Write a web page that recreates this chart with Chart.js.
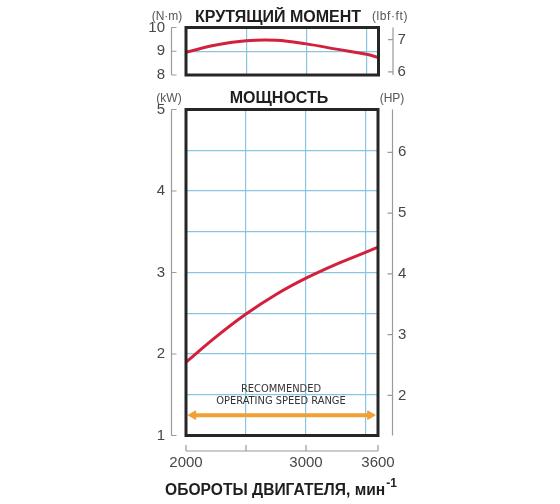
<!DOCTYPE html>
<html>
<head>
<meta charset="utf-8">
<script src="https://cdn.jsdelivr.net/npm/chart.js@4.4.1/dist/chart.umd.min.js"></script>
<style>
  html, body { margin: 0; padding: 0; background: #fff; }
  #page { position: relative; width: 560px; height: 504px; overflow: hidden; font-family: 'Liberation Sans', Arial, sans-serif; }
  .holder { position: absolute; left: 0; width: 560px; }
  .t { position: absolute; transform: translate(-50%, -50%); line-height: 1; white-space: nowrap; }
  .title { font-weight: bold; font-size: 16px; color: #1e1e1e; }
  .unit { font-size: 12px; color: #555; }
  .note { font-family: 'Liberation Sans Narrow', 'DejaVu Sans Condensed', sans-serif; font-size: 11px; color: #333; text-align: center; line-height: 12px; }
  .xtitle { font-size: 15.6px; }
  .xtitle sup { font-size: 12px; vertical-align: 0; position: relative; top: -8px; margin-left: 1px; }
</style>
</head>
<body>
<div id="page">
  <div class="holder" style="top:0;height:85px"><canvas id="torque"></canvas></div>
  <div class="holder" style="top:85px;height:419px"><canvas id="power"></canvas></div>

  <div class="t title" style="left:278px;top:17px">КРУТЯЩИЙ МОМЕНТ</div>
  <div class="t unit" style="left:167px;top:16px">(N·m)</div>
  <div class="t unit" style="left:390px;top:16px;letter-spacing:0.6px">(lbf·ft)</div>

  <div class="t title" style="left:279px;top:97.5px">МОЩНОСТЬ</div>
  <div class="t unit" style="left:169px;top:97.5px">(kW)</div>
  <div class="t unit" style="left:392px;top:97.5px">(HP)</div>

  <div class="t note" style="left:281px;top:395px">RECOMMENDED<br>OPERATING SPEED RANGE</div>
  <div class="t title xtitle" style="left:281px;top:490px">ОБОРОТЫ ДВИГАТЕЛЯ, мин<sup>-1</sup></div>
</div>
<script>
// engine speed, rpm
const rpm = [2000, 2250, 2500, 2750, 3000, 3250, 3500, 3600];
const torqueNm = [8.96, 9.26, 9.44, 9.46, 9.31, 9.09, 8.87, 8.74];
const powerKw = [1.90, 2.21, 2.49, 2.73, 2.93, 3.10, 3.25, 3.31];

// recommended operating speed range arrow
const speedRange = [2060, 3535];
const speedRangeKw = 1.25;

// axes
const rpmGrid = [2500, 3000, 3500];
const rpmMarks = [2000, 2500, 3000, 3600];
const rpmLabels = [2000, 3000, 3600];
const nmTicks = [8, 9, 10];
const nmGrid = [9];
const lbfTicks = [6, 7];
const kwTicks = [1, 2, 3, 4, 5];
const kwGrid = [1.5, 2, 2.5, 3, 3.5, 4, 4.5];
const hpTicks = [2, 3, 4, 5, 6];

const NM_TO_LBF = 0.73756;
const KW_PER_HP = 0.7457;

const RED = '#d3203d';
const ORANGE = '#f0a035';
const GRID = '#86c6e0';
const BRACKET = '#9a9a9a';
const TICK_TEXT = '#474747';

Chart.defaults.font.family = "'Liberation Sans', Arial, sans-serif";
Chart.defaults.animation = false;

const setTicks = values => scale => { scale.ticks = values.map(v => ({ value: v })); };
const sorted = (...lists) => [...new Set(lists.flat())].sort((a, b) => a - b);
// fixed axis size, and no extra room for label overhang (layout is set by padding)
const fixSize = (w, h) => s => {
  if (w !== undefined) s.width = w;
  if (h !== undefined) s.height = h;
  s.paddingTop = s.paddingBottom = s.paddingLeft = s.paddingRight = 0;
};

// box round the plot area and the detached bracket axes
const frame = {
  id: 'frame',
  afterDatasetsDraw(chart, args, opts) {
    const { ctx, chartArea: a } = chart;
    ctx.save();
    ctx.strokeStyle = BRACKET;
    ctx.lineWidth = 1.2;
    (opts.brackets || []).forEach(b => {
      const s = chart.scales[b.scale];
      ctx.beginPath();
      if (b.side === 'bottom') {
        const y = a.bottom + 15.5;
        ctx.moveTo(s.getPixelForValue(s.min), y);
        ctx.lineTo(s.getPixelForValue(s.max), y);
        b.ticks.forEach(v => {
          const x = s.getPixelForValue(v);
          ctx.moveTo(x, y);
          ctx.lineTo(x, y - 6);
        });
      } else {
        const x = b.side === 'left' ? a.left - 14.5 : a.right + 14.5;
        const d = b.side === 'left' ? 5 : -5;
        ctx.moveTo(x, a.top);
        ctx.lineTo(x, a.bottom);
        b.ticks.forEach(v => {
          const y = s.getPixelForValue(v);
          ctx.moveTo(x, y);
          ctx.lineTo(x + d, y);
        });
      }
      ctx.stroke();
    });
    ctx.strokeStyle = '#262626';
    ctx.lineWidth = 3;
    ctx.strokeRect(a.left, a.top, a.right - a.left, a.bottom - a.top);
    ctx.restore();
  }
};

const xScale = (showLabels) => ({
  type: 'linear',
  min: 2000,
  max: 3600,
  afterBuildTicks: setTicks(sorted(rpmGrid, rpmMarks)),
  afterFit: fixSize(undefined, showLabels ? 40 : 0),
  border: { display: false },
  grid: {
    drawTicks: false,
    lineWidth: 1.2,
    color: c => rpmGrid.includes(c.tick && c.tick.value) ? GRID : 'rgba(0,0,0,0)'
  },
  ticks: {
    display: showLabels,
    padding: 18,
    maxRotation: 0,
    autoSkip: false,
    color: TICK_TEXT,
    font: { size: 15 },
    callback: v => rpmLabels.includes(v) ? String(v) : ''
  }
});

new Chart(document.getElementById('torque'), {
  type: 'line',
  data: {
    datasets: [{
      data: rpm.map((r, i) => ({ x: r, y: torqueNm[i] })),
      borderColor: RED,
      borderWidth: 3,
      pointRadius: 0,
      tension: 0.4
    }]
  },
  options: {
    responsive: true,
    maintainAspectRatio: false,
    layout: { padding: { top: 27.5, bottom: 10, left: 0, right: 0 } },
    plugins: {
      legend: { display: false },
      tooltip: { enabled: false },
      frame: { brackets: [
        { side: 'left', scale: 'y', ticks: nmTicks },
        { side: 'right', scale: 'lbf', ticks: lbfTicks }
      ] }
    },
    scales: {
      x: xScale(false),
      y: {
        position: 'left',
        min: 8,
        max: 10,
        afterBuildTicks: setTicks(nmTicks),
        afterFit: fixSize(186),
        border: { display: false },
        grid: {
          drawTicks: false,
          lineWidth: 1.2,
          color: c => nmGrid.includes(c.tick && c.tick.value) ? GRID : 'rgba(0,0,0,0)'
        },
        ticks: { padding: 21, color: TICK_TEXT, font: { size: 15 } }
      },
      lbf: {
        position: 'right',
        min: 8 * NM_TO_LBF,
        max: 10 * NM_TO_LBF,
        afterBuildTicks: setTicks(lbfTicks),
        afterFit: fixSize(560 - 378.5),
        border: { display: false },
        grid: { drawOnChartArea: false, drawTicks: false },
        ticks: { padding: 19, color: TICK_TEXT, font: { size: 15 } }
      }
    }
  },
  plugins: [frame]
});

new Chart(document.getElementById('power'), {
  type: 'line',
  data: {
    datasets: [{
      data: rpm.map((r, i) => ({ x: r, y: powerKw[i] })),
      borderColor: RED,
      borderWidth: 3,
      pointRadius: 0,
      tension: 0.4
    }, {
      data: speedRange.map(r => ({ x: r, y: speedRangeKw })),
      borderColor: ORANGE,
      backgroundColor: ORANGE,
      borderWidth: 4,
      pointStyle: 'triangle',
      pointRotation: [270, 90],
      pointRadius: 5,
      pointBorderWidth: 1,
      pointBorderColor: ORANGE,
      pointBackgroundColor: ORANGE
    }]
  },
  options: {
    responsive: true,
    maintainAspectRatio: false,
    layout: { padding: { top: 24.5, bottom: 28.5, left: 0, right: 0 } },
    plugins: {
      legend: { display: false },
      tooltip: { enabled: false },
      frame: { brackets: [
        { side: 'left', scale: 'y', ticks: kwTicks },
        { side: 'right', scale: 'hp', ticks: hpTicks },
        { side: 'bottom', scale: 'x', ticks: rpmMarks }
      ] }
    },
    scales: {
      x: xScale(true),
      y: {
        position: 'left',
        min: 1,
        max: 5,
        afterBuildTicks: setTicks(sorted(kwTicks, kwGrid)),
        afterFit: fixSize(186),
        border: { display: false },
        grid: {
          drawTicks: false,
          lineWidth: 1.2,
          color: c => kwGrid.includes(c.tick && c.tick.value) ? GRID : 'rgba(0,0,0,0)'
        },
        ticks: {
          padding: 21,
          color: TICK_TEXT,
          font: { size: 15 },
          autoSkip: false,
          callback: v => kwTicks.includes(v) ? String(v) : ''
        }
      },
      hp: {
        position: 'right',
        min: 1 / KW_PER_HP,
        max: 5 / KW_PER_HP,
        afterBuildTicks: setTicks(hpTicks),
        afterFit: fixSize(560 - 378),
        border: { display: false },
        grid: { drawOnChartArea: false, drawTicks: false },
        ticks: { padding: 20, color: TICK_TEXT, font: { size: 15 } }
      }
    }
  },
  plugins: [frame]
});
</script>
</body>
</html>
